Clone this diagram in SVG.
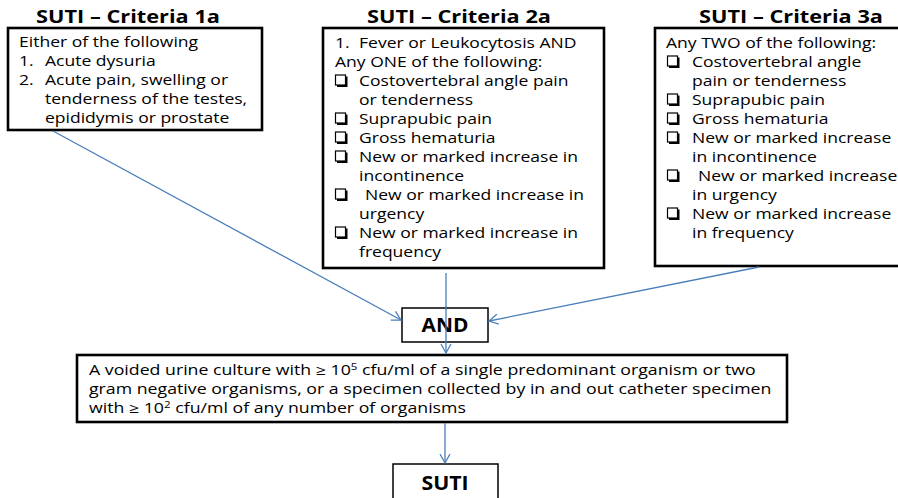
<svg xmlns="http://www.w3.org/2000/svg" width="898" height="498" viewBox="0 0 898 498">
<style>
.t{font-family:"Open Sans","Liberation Sans",sans-serif;font-size:13.8px;fill:#000}
.h{font-family:"Open Sans","Liberation Sans",sans-serif;font-size:17px;font-weight:bold;fill:#000;text-anchor:middle}
.b{font-family:"Open Sans","Liberation Sans",sans-serif;font-size:19px;font-weight:bold;fill:#000;text-anchor:middle}
.box{fill:#fff;stroke:#000;stroke-width:2.6}
.sbox{fill:#fff;stroke:#000;stroke-width:1.5}
.c{stroke:#4a7ebb;stroke-width:1.3;fill:none;marker-end:url(#ah)}
.sup{font-size:9px}
</style>
<defs>
<marker id="ah" markerWidth="12" markerHeight="12" refX="10" refY="6" orient="auto" markerUnits="userSpaceOnUse">
<path d="M1,1 L10,6 L1,11" fill="none" stroke="#4a7ebb" stroke-width="1.3"/>
</marker>
<g id="cb">
<rect x="0.5" y="-6" width="10" height="10" fill="#fff" stroke="#000" stroke-width="1.2"/>
<path d="M11.5,-4.5 V5 H2" fill="none" stroke="#000" stroke-width="2"/>
</g>
</defs>
<rect width="898" height="498" fill="#fff"/>

<g id="criteria1a">
<text class="h" transform="translate(128,23) scale(1.28,1)">SUTI – Criteria 1a</text>
<rect class="box" x="8" y="28" width="254" height="102"/>
<text class="t" transform="translate(19,47) scale(1.27,1)">Either of the following</text>
<text class="t" transform="translate(19,66) scale(1.27,1)">1.</text>
<text class="t" transform="translate(45,66) scale(1.27,1)">Acute dysuria</text>
<text class="t" transform="translate(19,85) scale(1.27,1)">2.</text>
<text class="t" transform="translate(45,85) scale(1.27,1)">Acute pain, swelling or</text>
<text class="t" transform="translate(45,104) scale(1.27,1)">tenderness of the testes,</text>
<text class="t" transform="translate(45,123) scale(1.27,1)">epididymis or prostate</text>
</g>

<g id="criteria2a">
<text class="h" transform="translate(459,23) scale(1.28,1)">SUTI – Criteria 2a</text>
<rect class="box" x="323" y="28" width="281" height="240"/>
<text class="t" transform="translate(335,48) scale(1.27,1)">1.</text>
<text class="t" transform="translate(359,48) scale(1.27,1)">Fever or Leukocytosis AND</text>
<text class="t" transform="translate(335,67) scale(1.27,1)">Any ONE of the following:</text>
<use href="#cb" x="335" y="81"/>
<text class="t" transform="translate(359,86) scale(1.27,1)">Costovertebral angle pain</text>
<text class="t" transform="translate(359,105) scale(1.27,1)">or tenderness</text>
<use href="#cb" x="335" y="119"/>
<text class="t" transform="translate(359,124) scale(1.27,1)">Suprapubic pain</text>
<use href="#cb" x="335" y="138"/>
<text class="t" transform="translate(359,143) scale(1.27,1)">Gross hematuria</text>
<use href="#cb" x="335" y="157"/>
<text class="t" transform="translate(359,162) scale(1.27,1)">New or marked increase in</text>
<text class="t" transform="translate(359,181) scale(1.27,1)">incontinence</text>
<use href="#cb" x="335" y="195"/>
<text class="t" transform="translate(365,200) scale(1.27,1)">New or marked increase in</text>
<text class="t" transform="translate(359,219) scale(1.27,1)">urgency</text>
<use href="#cb" x="335" y="233"/>
<text class="t" transform="translate(359,238) scale(1.27,1)">New or marked increase in</text>
<text class="t" transform="translate(359,257) scale(1.27,1)">frequency</text>
</g>

<g id="criteria3a">
<text class="h" transform="translate(791,23) scale(1.28,1)">SUTI – Criteria 3a</text>
<rect class="box" x="655" y="28" width="250" height="238"/>
<text class="t" transform="translate(666,48) scale(1.27,1)">Any TWO of the following:</text>
<use href="#cb" x="667" y="62"/>
<text class="t" transform="translate(692,67) scale(1.27,1)">Costovertebral angle</text>
<text class="t" transform="translate(692,86) scale(1.27,1)">pain or tenderness</text>
<use href="#cb" x="667" y="100"/>
<text class="t" transform="translate(692,105) scale(1.27,1)">Suprapubic pain</text>
<use href="#cb" x="667" y="119"/>
<text class="t" transform="translate(692,124) scale(1.27,1)">Gross hematuria</text>
<use href="#cb" x="667" y="138"/>
<text class="t" transform="translate(692,143) scale(1.27,1)">New or marked increase</text>
<text class="t" transform="translate(692,162) scale(1.27,1)">in incontinence</text>
<use href="#cb" x="667" y="176"/>
<text class="t" transform="translate(698,181) scale(1.27,1)">New or marked increase</text>
<text class="t" transform="translate(692,200) scale(1.27,1)">in urgency</text>
<use href="#cb" x="667" y="214"/>
<text class="t" transform="translate(692,219) scale(1.27,1)">New or marked increase</text>
<text class="t" transform="translate(692,238) scale(1.27,1)">in frequency</text>
</g>

<g id="and">
<rect class="sbox" x="402" y="308" width="86" height="34"/>
<text class="b" transform="translate(445,332) scale(1.1,1)">AND</text>
</g>

<g id="culture">
<rect class="box" x="77" y="355" width="710" height="67"/>
<text class="t" transform="translate(89,375) scale(1.285,1)">A voided urine culture with ≥ 10<tspan class="sup" dy="-5">5</tspan><tspan dy="5"> cfu/ml of a single predominant organism or two</tspan></text>
<text class="t" transform="translate(89,394) scale(1.285,1)">gram negative organisms, or a specimen collected by in and out catheter specimen</text>
<text class="t" transform="translate(89,413) scale(1.285,1)">with ≥ 10<tspan class="sup" dy="-5">2</tspan><tspan dy="5"> cfu/ml of any number of organisms</tspan></text>
</g>

<g id="suti">
<rect class="sbox" x="393" y="464" width="105" height="40"/>
<text class="b" transform="translate(445,490) scale(1.12,1)">SUTI</text>
</g>

<g id="connectors">
<line class="c" x1="53" y1="131" x2="401" y2="320"/>
<line class="c" x1="759" y1="267" x2="489" y2="321"/>
<line class="c" x1="446" y1="273" x2="446" y2="353"/>
<line class="c" x1="445" y1="423" x2="445" y2="463"/>
</g>
</svg>
